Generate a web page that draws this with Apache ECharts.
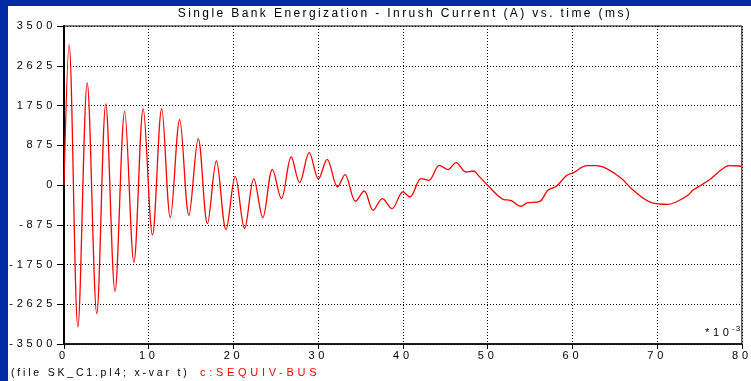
<!DOCTYPE html>
<html>
<head>
<meta charset="utf-8">
<script src="https://cdn.jsdelivr.net/npm/echarts@6/dist/echarts.min.js"></script>
<style>
  html, body { margin: 0; padding: 0; background: #0029a3; width: 751px; height: 381px; overflow: hidden; }
  #panel { position: absolute; left: 8px; top: 6px; width: 743px; height: 375px; background: #ffffff; }
  #chart { position: absolute; left: 0; top: 0; width: 751px; height: 381px; }
</style>
</head>
<body>
<div id="panel"></div>
<div id="chart"></div>
<script>
// Time (ms) of each sampled turning point of the inrush transient
const timeMs = [
  0, 0.6, 1.64, 2.74, 3.87, 4.93, 6.02, 7.16, 8.25, 9.35,
  10.44, 11.53, 12.55, 13.65, 14.74, 15.84, 16.93, 17.98, 19.12, 20.21,
  21.31, 22.4, 23.46, 24.6, 25.65, 26.82, 27.8, 28.94, 30.03, 31.05,
  32.29, 33.16, 34.4, 35.43, 36.48, 37.57, 38.71, 40.0, 40.82, 42.15,
  43.05, 44.3, 45.3, 46.27, 47.44, 48.33, 48.8, 49.97, 51.9, 52.7,
  53.9, 54.66, 56.15, 57.1, 58.1, 59.35, 60.14, 61.7, 62.87, 64.05,
  65.8, 67.18, 69.33, 71.28, 72.26, 73.63, 74.2, 76.1, 77.5, 78.5,
  79.7, 80
];
// Bus current (A) at those instants
const currentA = [
  0, 3090, -3125, 2245, -2831, 1783, -2340, 1622, -1701, 1673,
  -1100, 1681, -718, 1439, -667, 1021, -850, 528, -982, 191,
  -960, 141, -717, 345, -300, 616, 53, 713, 132, 566,
  -44, 229, -359, -132, -557, -300, -520, -153, -264, 141,
  103, 433, 339, 493, 286, 308, 229, 0, -321, -337,
  -469, -396, -359, -117, -29, 213, 273, 427, 427, 361,
  141, -117, -387, -425, -374, -227, -117, 103, 324, 427,
  418, 405
];
const yTickLabels = ['-3500', '-2625', '-1750', '-875', '0', '875', '1750', '2625', '3500'];
const xTickLabels = ['0', '10', '20', '30', '40', '50', '60', '70', '80'];

const titleText = 'Single Bank Energization - Inrush Current (A) vs. time (ms)';
const fileText = '(file SK_C1.pl4; x-var t)';
const curveName = 'c:SEQUIV-BUS';

// Plot-style wide character spacing, keyed by font size
const SPACING = { 12: 2.4, 11: 3.7, 10.5: 2.8, 8: 1.2 };
(function () {
  const proto = CanvasRenderingContext2D.prototype;
  const orig = proto.fillText;
  proto.fillText = function (text, x, y, maxW) {
    const m = /(\d+(?:\.\d+)?)px/.exec(this.font);
    const s = m ? (SPACING[parseFloat(m[1])] || 0) : 0;
    if ('letterSpacing' in this) this.letterSpacing = s + 'px';
    return maxW === undefined ? orig.call(this, text, x, y) : orig.call(this, text, x, y, maxW);
  };
})();

const FONT = 'Liberation Sans, Arial, sans-serif';
const points = timeMs.map((t, i) => [t, currentA[i]]);

const chart = echarts.init(document.getElementById('chart'), null, { renderer: 'canvas' });
chart.setOption({
  animation: false,
  backgroundColor: 'transparent',
  grid: {
    left: 64, top: 26, right: 5, bottom: 37,
    show: true, borderColor: '#000', borderWidth: 1, backgroundColor: 'transparent'
  },
  xAxis: {
    type: 'value', min: 0, max: 80, interval: 10,
    axisLine: { show: true, onZero: false, lineStyle: { color: '#000', width: 1.5 } },
    axisTick: { show: true, inside: false, length: 5, lineStyle: { color: '#000' } },
    axisLabel: {
      color: '#000', fontSize: 11, fontFamily: FONT, margin: 6,
      formatter: (v) => xTickLabels[Math.round(v / 10)]
    },
    splitLine: { show: true, lineStyle: { color: '#000', width: 1, type: [1, 2] } }
  },
  yAxis: [{
    type: 'value', min: -3500, max: 3500, interval: 875,
    axisLine: { show: true, onZero: false, lineStyle: { color: '#000', width: 1.5 } },
    axisTick: { show: true, inside: false, length: 7, lineStyle: { color: '#000' } },
    axisLabel: {
      color: '#000', fontSize: 11, fontFamily: FONT, margin: 8,
      formatter: (v) => yTickLabels[Math.round((v + 3500) / 875)]
    },
    splitLine: { show: true, lineStyle: { color: '#000', width: 1, type: [1, 2] } }
  }, {
    type: 'value', min: -3500, max: 3500, position: 'right',
    axisLine: { show: true, lineStyle: { color: '#000', width: 2 } },
    axisTick: { show: false }, axisLabel: { show: false }, splitLine: { show: false }
  }],
  series: [{
    name: curveName,
    type: 'line',
    data: points,
    smooth: 0.35,
    showSymbol: false,
    lineStyle: { color: '#ff0000', width: 1.3 },
    z: 5
  }],
  graphic: [
    {
      type: 'text', x: 405, y: 14,
      style: { text: titleText, fill: '#000', font: '12px ' + FONT, textAlign: 'center', textVerticalAlign: 'middle' }
    },
    {
      type: 'text', x: 11, y: 373,
      style: { text: fileText, fill: '#000', font: '10.5px ' + FONT, textAlign: 'left', textVerticalAlign: 'middle' }
    },
    {
      type: 'text', x: 200, y: 373,
      style: { text: curveName, fill: '#ff0000', font: '11px ' + FONT, textAlign: 'left', textVerticalAlign: 'middle' }
    },
    {
      type: 'text', x: 705, y: 333,
      style: { text: '*10', fill: '#000', font: '11px ' + FONT, textAlign: 'left', textVerticalAlign: 'middle' }
    },
    {
      type: 'text', x: 732, y: 329,
      style: { text: '-3', fill: '#000', font: '8px ' + FONT, textAlign: 'left', textVerticalAlign: 'middle' }
    }
  ]
});
</script>
</body>
</html>
